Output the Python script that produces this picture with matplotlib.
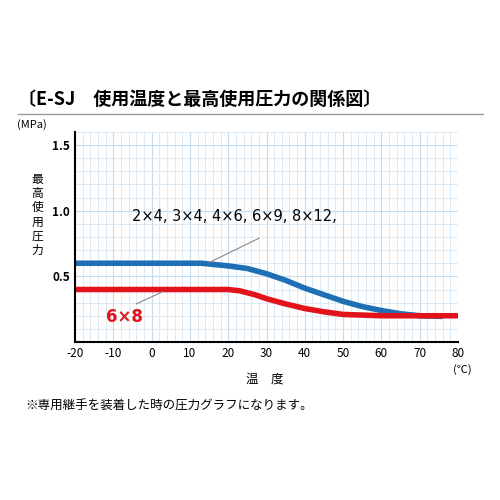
import matplotlib.pyplot as plt
import numpy as np

plt.rcParams['font.family'] = ['Noto Sans CJK JP', 'DejaVu Sans']
plt.rcParams['axes.unicode_minus'] = False

# データ
temp_blue = [-20, 0, 13, 20, 25, 30, 35, 40, 45, 50, 55, 60, 65, 70, 76]
press_blue = [0.60, 0.60, 0.60, 0.58, 0.56, 0.52, 0.47, 0.41, 0.36, 0.31, 0.27, 0.24, 0.215, 0.20, 0.195]
temp_red = [-20, 0, 20, 23, 27, 30, 35, 40, 45, 50, 55, 60, 70, 80]
press_red = [0.40, 0.40, 0.40, 0.39, 0.36, 0.33, 0.29, 0.255, 0.23, 0.21, 0.205, 0.20, 0.20, 0.20]
xticks = list(range(-20, 81, 10))
yticks = [0.5, 1.0, 1.5]

fig = plt.figure(figsize=(5, 5), dpi=100)
ax = fig.add_axes([0.15, 0.316, 0.766, 0.42])

ax.set_xticks(np.arange(-20, 81, 2), minor=True)
ax.set_yticks(np.arange(0, 1.61, 0.1), minor=True)
ax.grid(which='minor', color='#d6e8f4', lw=0.6)
ax.grid(which='major', color='#c4dcee', lw=0.8)
ax.set_axisbelow(True)

ax.plot(temp_blue, press_blue, color='#1f6fb4', lw=4, solid_capstyle='butt')
ax.plot(temp_red, press_red, color='#e3131b', lw=4, solid_capstyle='butt')

ax.plot([15, 28], [0.605, 0.79], color='#888888', lw=0.8)
ax.plot([-4, 3], [0.29, 0.385], color='#888888', lw=0.8)
ax.text(-5, 0.92, '2×4, 3×4, 4×6, 6×9, 8×12,', fontsize=10.5, family='DejaVu Sans')
ax.text(-12, 0.15, '6×8', fontsize=12, color='#e3131b', fontweight='bold', family='DejaVu Sans')

ax.set_xlim(-20, 80)
ax.set_ylim(0, 1.6)
ax.set_xticks(xticks)
ax.set_yticks(yticks)
ax.set_yticklabels(['0.5', '1.0', '1.5'], fontweight='bold')
ax.tick_params(which='both', length=0, labelsize=8.5)
for s in ['top', 'right']:
    ax.spines[s].set_visible(False)
ax.spines['left'].set_linewidth(1.5)
ax.spines['bottom'].set_linewidth(1.5)

fig.text(0.035, 0.79, '〔E-SJ　使用温度と最高使用圧力の関係図〕', fontsize=13, fontweight='bold')
fig.add_artist(plt.Line2D([0.035, 0.965], [0.772, 0.772], color='#999999', lw=1))
fig.text(0.035, 0.745, '(MPa)', fontsize=8)
fig.text(0.075, 0.57, '最\n高\n使\n用\n圧\n力', fontsize=8.5, ha='center', va='center', linespacing=1.1)
fig.text(0.53, 0.235, '温　度', fontsize=9, ha='center')
fig.text(0.905, 0.255, '(℃)', fontsize=8)
fig.text(0.05, 0.18, '※専用継手を装着した時の圧力グラフになります。', fontsize=9)

fig.savefig('out.png', dpi=100, facecolor='white')
